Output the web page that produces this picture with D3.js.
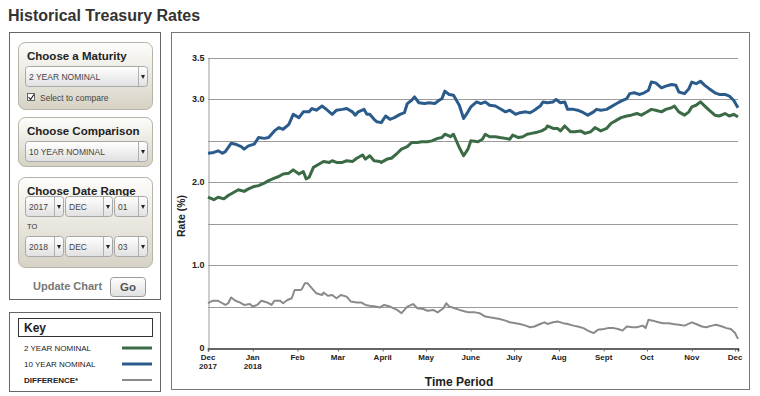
<!DOCTYPE html>
<html>
<head>
<meta charset="utf-8">
<script src="https://cdn.jsdelivr.net/npm/d3@7"></script>
<style>
  body { margin: 0; background: #fff; }
  svg { font-family: "Liberation Sans", Arial, sans-serif; display: block; }
</style>
</head>
<body>
<svg id="chart" width="760" height="396"></svg>
<script>

// tick labels
var monthTicks = ["2017-12-01","2018-01-01","2018-02-01","2018-03-01","2018-04-01","2018-05-01",
  "2018-06-01","2018-07-01","2018-08-01","2018-09-01","2018-10-01","2018-11-01","2018-12-01"];
var monthLabels = ["Dec","Jan","Feb","Mar","April","May","June","July","Aug","Sept","Oct","Nov","Dec"];
var yearLabels = ["2017","2018"];
var rateTicks = [0, 1.0, 2.0, 3.0, 3.5];
var gridValues = [0.5, 1.0, 1.5, 2.0, 2.5, 3.0, 3.5];
var seriesNames = ["2 YEAR NOMINAL", "10 YEAR NOMINAL", "DIFFERENCE*"];

// 10 year nominal (%)
var tenYear = [
  ["2017-12-01",2.35],["2017-12-05",2.36],["2017-12-08",2.38],["2017-12-11",2.35],["2017-12-13",2.37],
  ["2017-12-17",2.47],["2017-12-20",2.46],["2017-12-24",2.43],["2017-12-26",2.40],["2017-12-29",2.44],
  ["2018-01-02",2.46],["2018-01-05",2.54],["2018-01-09",2.53],["2018-01-12",2.54],["2018-01-16",2.62],
  ["2018-01-19",2.66],["2018-01-22",2.64],["2018-01-26",2.70],["2018-01-29",2.82],["2018-02-02",2.78],
  ["2018-02-05",2.85],["2018-02-09",2.85],["2018-02-11",2.89],["2018-02-14",2.87],["2018-02-18",2.92],
  ["2018-02-21",2.88],["2018-02-25",2.82],["2018-02-28",2.87],["2018-03-04",2.88],["2018-03-07",2.89],
  ["2018-03-11",2.85],["2018-03-13",2.81],["2018-03-15",2.85],["2018-03-19",2.88],["2018-03-21",2.82],
  ["2018-03-23",2.82],["2018-03-26",2.76],["2018-03-28",2.73],["2018-03-31",2.72],["2018-04-03",2.80],
  ["2018-04-06",2.76],["2018-04-09",2.78],["2018-04-13",2.82],["2018-04-16",2.84],["2018-04-18",2.95],
  ["2018-04-21",2.99],["2018-04-23",3.03],["2018-04-26",2.96],["2018-04-30",2.95],["2018-05-03",2.96],
  ["2018-05-07",2.95],["2018-05-10",2.99],["2018-05-12",3.01],["2018-05-14",3.10],["2018-05-17",3.06],
  ["2018-05-20",3.05],["2018-05-24",2.93],["2018-05-27",2.77],["2018-05-30",2.85],["2018-06-01",2.91],
  ["2018-06-05",2.97],["2018-06-08",2.95],["2018-06-11",2.97],["2018-06-14",2.93],["2018-06-18",2.92],
  ["2018-06-21",2.89],["2018-06-25",2.85],["2018-06-28",2.87],["2018-07-02",2.82],["2018-07-05",2.84],
  ["2018-07-09",2.85],["2018-07-12",2.84],["2018-07-15",2.87],["2018-07-19",2.92],["2018-07-21",2.97],
  ["2018-07-24",2.96],["2018-07-28",2.97],["2018-07-30",3.00],["2018-08-02",2.96],["2018-08-05",2.97],
  ["2018-08-07",2.88],["2018-08-11",2.88],["2018-08-14",2.87],["2018-08-18",2.84],["2018-08-21",2.81],
  ["2018-08-25",2.85],["2018-08-27",2.88],["2018-08-30",2.87],["2018-09-03",2.88],["2018-09-06",2.91],
  ["2018-09-10",2.95],["2018-09-13",2.98],["2018-09-17",3.01],["2018-09-19",3.07],["2018-09-22",3.08],
  ["2018-09-26",3.06],["2018-09-29",3.08],["2018-10-02",3.11],["2018-10-04",3.21],["2018-10-07",3.20],
  ["2018-10-11",3.14],["2018-10-14",3.16],["2018-10-18",3.18],["2018-10-21",3.17],["2018-10-23",3.09],
  ["2018-10-27",3.07],["2018-10-30",3.13],["2018-11-01",3.21],["2018-11-04",3.19],["2018-11-07",3.22],
  ["2018-11-10",3.17],["2018-11-13",3.13],["2018-11-17",3.08],["2018-11-20",3.06],["2018-11-24",3.06],
  ["2018-11-27",3.04],["2018-11-30",2.99],["2018-12-02",2.93],["2018-12-03",2.90]
];

// 2 year nominal (%)
var twoYear = [
  ["2017-12-01",1.82],["2017-12-05",1.79],["2017-12-08",1.82],["2017-12-12",1.80],["2017-12-15",1.84],
  ["2017-12-19",1.88],["2017-12-22",1.91],["2017-12-26",1.89],["2017-12-29",1.92],["2018-01-02",1.95],
  ["2018-01-05",1.96],["2018-01-09",1.99],["2018-01-12",2.02],["2018-01-16",2.05],["2018-01-19",2.07],
  ["2018-01-22",2.10],["2018-01-26",2.11],["2018-01-29",2.15],["2018-02-02",2.10],["2018-02-05",2.13],
  ["2018-02-07",2.04],["2018-02-09",2.06],["2018-02-12",2.18],["2018-02-16",2.22],["2018-02-19",2.25],
  ["2018-02-23",2.24],["2018-02-25",2.26],["2018-02-28",2.24],["2018-03-04",2.24],["2018-03-07",2.26],
  ["2018-03-11",2.25],["2018-03-14",2.29],["2018-03-18",2.33],["2018-03-20",2.28],["2018-03-23",2.32],
  ["2018-03-26",2.26],["2018-03-30",2.25],["2018-03-31",2.24],["2018-04-04",2.28],["2018-04-07",2.29],
  ["2018-04-11",2.35],["2018-04-14",2.40],["2018-04-18",2.43],["2018-04-21",2.48],["2018-04-25",2.48],
  ["2018-04-28",2.49],["2018-05-02",2.49],["2018-05-05",2.50],["2018-05-09",2.53],["2018-05-12",2.54],
  ["2018-05-14",2.58],["2018-05-18",2.55],["2018-05-20",2.58],["2018-05-24",2.42],["2018-05-27",2.32],
  ["2018-05-30",2.40],["2018-06-01",2.50],["2018-06-06",2.49],["2018-06-09",2.52],["2018-06-11",2.58],
  ["2018-06-14",2.55],["2018-06-18",2.55],["2018-06-21",2.54],["2018-06-25",2.53],["2018-06-28",2.52],
  ["2018-06-30",2.57],["2018-07-04",2.54],["2018-07-07",2.55],["2018-07-10",2.58],["2018-07-13",2.59],
  ["2018-07-16",2.60],["2018-07-20",2.62],["2018-07-23",2.65],["2018-07-24",2.68],["2018-07-28",2.65],
  ["2018-07-31",2.65],["2018-08-02",2.62],["2018-08-05",2.68],["2018-08-09",2.61],["2018-08-12",2.61],
  ["2018-08-16",2.62],["2018-08-19",2.59],["2018-08-23",2.61],["2018-08-26",2.66],["2018-08-28",2.64],
  ["2018-08-30",2.62],["2018-09-03",2.65],["2018-09-06",2.71],["2018-09-10",2.75],["2018-09-13",2.78],
  ["2018-09-17",2.80],["2018-09-20",2.81],["2018-09-24",2.83],["2018-09-27",2.81],["2018-09-30",2.84],
  ["2018-10-04",2.88],["2018-10-07",2.87],["2018-10-11",2.85],["2018-10-14",2.88],["2018-10-18",2.90],
  ["2018-10-20",2.92],["2018-10-23",2.85],["2018-10-27",2.81],["2018-10-30",2.85],["2018-11-01",2.91],
  ["2018-11-04",2.93],["2018-11-07",2.97],["2018-11-10",2.92],["2018-11-13",2.87],["2018-11-17",2.81],
  ["2018-11-20",2.80],["2018-11-24",2.83],["2018-11-27",2.80],["2018-11-30",2.82],["2018-12-02",2.80],
  ["2018-12-03",2.79]
];

// difference (%)
var difference = [
  ["2017-12-01",0.54],["2017-12-04",0.57],["2017-12-08",0.57],["2017-12-11",0.54],["2017-12-13",0.52],
  ["2017-12-15",0.54],["2017-12-17",0.61],["2017-12-20",0.57],["2017-12-23",0.55],["2017-12-26",0.52],
  ["2017-12-30",0.53],["2018-01-01",0.50],["2018-01-04",0.52],["2018-01-07",0.57],["2018-01-11",0.55],
  ["2018-01-14",0.52],["2018-01-16",0.57],["2018-01-20",0.57],["2018-01-22",0.54],["2018-01-25",0.58],
  ["2018-01-28",0.60],["2018-01-30",0.70],["2018-02-03",0.70],["2018-02-04",0.71],["2018-02-06",0.78],
  ["2018-02-08",0.78],["2018-02-11",0.72],["2018-02-14",0.66],["2018-02-18",0.64],["2018-02-19",0.67],
  ["2018-02-22",0.63],["2018-02-25",0.64],["2018-02-28",0.60],["2018-03-03",0.64],["2018-03-07",0.62],
  ["2018-03-10",0.56],["2018-03-14",0.55],["2018-03-17",0.55],["2018-03-20",0.52],["2018-03-23",0.51],
  ["2018-03-27",0.50],["2018-03-30",0.49],["2018-04-02",0.52],["2018-04-06",0.50],["2018-04-11",0.46],
  ["2018-04-14",0.42],["2018-04-18",0.50],["2018-04-22",0.53],["2018-04-25",0.48],["2018-04-29",0.47],
  ["2018-05-02",0.45],["2018-05-06",0.46],["2018-05-09",0.43],["2018-05-13",0.48],["2018-05-15",0.54],
  ["2018-05-17",0.50],["2018-05-21",0.48],["2018-05-24",0.46],["2018-05-28",0.44],["2018-05-31",0.43],
  ["2018-06-04",0.43],["2018-06-07",0.42],["2018-06-11",0.38],["2018-06-14",0.37],["2018-06-18",0.36],
  ["2018-06-21",0.35],["2018-06-25",0.33],["2018-06-28",0.31],["2018-07-02",0.30],["2018-07-05",0.29],
  ["2018-07-09",0.27],["2018-07-12",0.25],["2018-07-15",0.26],["2018-07-19",0.29],["2018-07-22",0.31],
  ["2018-07-24",0.29],["2018-07-28",0.31],["2018-07-31",0.32],["2018-08-04",0.30],["2018-08-07",0.29],
  ["2018-08-11",0.27],["2018-08-14",0.26],["2018-08-18",0.24],["2018-08-21",0.21],["2018-08-25",0.18],
  ["2018-08-28",0.22],["2018-09-01",0.23],["2018-09-04",0.24],["2018-09-08",0.24],["2018-09-11",0.23],
  ["2018-09-14",0.21],["2018-09-17",0.26],["2018-09-21",0.25],["2018-09-24",0.25],["2018-09-28",0.27],
  ["2018-09-30",0.24],["2018-10-02",0.34],["2018-10-05",0.33],["2018-10-09",0.31],["2018-10-12",0.30],
  ["2018-10-16",0.30],["2018-10-19",0.29],["2018-10-23",0.28],["2018-10-27",0.27],["2018-11-01",0.31],
  ["2018-11-04",0.29],["2018-11-08",0.26],["2018-11-11",0.25],["2018-11-15",0.27],["2018-11-18",0.28],
  ["2018-11-22",0.26],["2018-11-25",0.24],["2018-11-28",0.23],["2018-12-01",0.18],["2018-12-03",0.11]
];

var colors = {two: "#3b6b45", ten: "#2b5b8b", diff: "#8a8a8a"};
var parse = d3.timeParse("%Y-%m-%d");

var svg = d3.select("#chart");
var defs = svg.append("defs");

function vGrad(id, c1, c2) {
  var g = defs.append("linearGradient").attr("id", id)
    .attr("x1", 0).attr("y1", 0).attr("x2", 0).attr("y2", 1);
  g.append("stop").attr("offset", "0%").attr("stop-color", c1);
  g.append("stop").attr("offset", "100%").attr("stop-color", c2);
}
vGrad("boxGrad", "#fdfdfb", "#d6d2c5");
vGrad("selGrad", "#ffffff", "#e0e0e0");

// title
svg.append("text")
  .attr("x", 8).attr("y", 21)
  .style("font-size", "16px").style("font-weight", "bold").attr("fill", "#333")
  .text("Historical Treasury Rates");

// ---- left control panel ----
svg.append("rect")
  .attr("x", 9.5).attr("y", 32.5).attr("width", 151).attr("height", 267)
  .attr("fill", "#fff").attr("stroke", "#666");

function panelBox(y, h, title) {
  svg.append("rect")
    .attr("x", 18.5).attr("y", y + 0.5).attr("width", 134).attr("height", h)
    .attr("rx", 7).attr("fill", "url(#boxGrad)").attr("stroke", "#b5b2a8");
  svg.append("text")
    .attr("x", 27).attr("y", y + 18)
    .style("font-size", "11.5px").style("font-weight", "bold").attr("fill", "#222")
    .text(title);
}

function selectBox(x, y, w, label) {
  var h = 20;
  svg.append("rect")
    .attr("x", x + 0.5).attr("y", y + 0.5).attr("width", w).attr("height", h)
    .attr("rx", 3).attr("fill", "url(#selGrad)").attr("stroke", "#a8a8a8");
  svg.append("line")
    .attr("x1", x + w - 8.5).attr("x2", x + w - 8.5)
    .attr("y1", y + 1).attr("y2", y + h)
    .attr("stroke", "#b0b0b0");
  svg.append("path")
    .attr("d", "M" + (x + w - 6) + "," + (y + 9) + "l4,0l-2,4z")
    .attr("fill", "#222");
  svg.append("text")
    .attr("x", x + 4).attr("y", y + 13.5)
    .style("font-size", "8.5px").attr("fill", "#444")
    .text(label);
}

panelBox(42, 67, "Choose a Maturity");
selectBox(25, 66, 122, "2 YEAR NOMINAL");
svg.append("rect").attr("x", 27.5).attr("y", 93.5).attr("width", 7).attr("height", 7)
  .attr("fill", "#fff").attr("stroke", "#666");
svg.append("path").attr("d", "M28.5,97 l2,2.5 l3.5,-5").attr("fill", "none")
  .attr("stroke", "#222").attr("stroke-width", 1.2);
svg.append("text").attr("x", 40).attr("y", 101)
  .style("font-size", "8.5px").attr("fill", "#444").text("Select to compare");

panelBox(117, 49, "Choose Comparison");
selectBox(25, 141, 122, "10 YEAR NOMINAL");

panelBox(177, 90, "Choose Date Range");
selectBox(25, 196, 38, "2017");
selectBox(65, 196, 47, "DEC");
selectBox(114, 196, 33, "01");
svg.append("text").attr("x", 27).attr("y", 229)
  .style("font-size", "7.5px").attr("fill", "#333").text("TO");
selectBox(25, 236, 38, "2018");
selectBox(65, 236, 47, "DEC");
selectBox(114, 236, 33, "03");

svg.append("text").attr("x", 33).attr("y", 290)
  .style("font-size", "11px").style("font-weight", "bold").attr("fill", "#777")
  .text("Update Chart");
svg.append("rect").attr("x", 110.5).attr("y", 277.5).attr("width", 35).attr("height", 19)
  .attr("rx", 3).attr("fill", "url(#selGrad)").attr("stroke", "#999");
svg.append("text").attr("x", 128).attr("y", 291).attr("text-anchor", "middle")
  .style("font-size", "11.5px").style("font-weight", "bold").attr("fill", "#555").text("Go");

// ---- key ----
svg.append("rect").attr("x", 9.5).attr("y", 312.5).attr("width", 151).attr("height", 79)
  .attr("fill", "#fff").attr("stroke", "#666");
svg.append("rect").attr("x", 18.5).attr("y", 318.5).attr("width", 134).attr("height", 18)
  .attr("fill", "#fff").attr("stroke", "#333");
svg.append("text").attr("x", 24).attr("y", 332)
  .style("font-size", "12px").style("font-weight", "bold").attr("fill", "#222").text("Key");

var keyColors = [colors.two, colors.ten, colors.diff];
var keyRows = svg.append("g").selectAll("g").data(seriesNames).enter().append("g")
  .attr("transform", function(d, i) { return "translate(0," + (351 + i * 16) + ")"; });
keyRows.append("text").attr("x", 24).attr("y", 0)
  .style("font-size", "8px")
  .style("font-weight", function(d, i) { return i === 2 ? "bold" : "normal"; })
  .attr("fill", "#222")
  .text(function(d) { return d; });
keyRows.append("line").attr("x1", 122).attr("x2", 152).attr("y1", -3).attr("y2", -3)
  .attr("stroke", function(d, i) { return keyColors[i]; })
  .attr("stroke-width", function(d, i) { return i === 2 ? 2 : 3; });

// ---- chart panel ----
svg.append("rect").attr("x", 171.5).attr("y", 32.5).attr("width", 578).attr("height", 357)
  .attr("fill", "#fff").attr("stroke", "#777");

var x = d3.scaleTime()
  .domain([parse("2017-12-01"), parse("2018-12-03")])
  .range([208, 738]);
var y = d3.scaleLinear().domain([0, 3.5]).range([348, 58]);

// gridlines
svg.append("g").selectAll("line").data(gridValues).enter().append("line")
  .attr("x1", 208).attr("x2", 738)
  .attr("y1", function(d) { return Math.round(y(d)) + 0.5; })
  .attr("y2", function(d) { return Math.round(y(d)) + 0.5; })
  .attr("stroke", "#9a9a9a");

// y axis
var yAxis = d3.axisLeft(y).tickValues(rateTicks).tickSize(0).tickPadding(4)
  .tickFormat(function(d) { return d === 0 ? "0" : d3.format(".1f")(d); });
var yg = svg.append("g").attr("transform", "translate(208.5,0)").call(yAxis);
yg.select(".domain").attr("stroke", "#9a9a9a");
yg.selectAll("text").style("font-size", "9px").style("font-weight", "bold")
  .style("font-family", "'Liberation Sans', Arial, sans-serif").attr("fill", "#222")
  .attr("dy", "0.25em");

// x axis
var xAxis = d3.axisBottom(x).tickValues(monthTicks.map(parse)).tickSize(3).tickFormat("");
var xg = svg.append("g").attr("transform", "translate(0,348.5)").call(xAxis);
xg.select(".domain").attr("stroke", "#333").attr("stroke-width", 1.5);
xg.selectAll(".tick line").attr("stroke", "#666");

svg.append("g").selectAll("text").data(monthTicks).enter().append("text")
  .attr("x", function(d) { return x(parse(d)); })
  .attr("y", 360)
  .attr("text-anchor", "middle")
  .style("font-size", "8px").style("font-weight", "bold").attr("fill", "#222")
  .text(function(d, i) { return monthLabels[i]; });

svg.append("g").selectAll("text").data(yearLabels).enter().append("text")
  .attr("x", function(d, i) { return x(parse(monthTicks[i])); })
  .attr("y", 369)
  .attr("text-anchor", "middle")
  .style("font-size", "8px").style("font-weight", "bold").attr("fill", "#222")
  .text(function(d) { return d; });

// axis titles
svg.append("text")
  .attr("transform", "translate(185,216) rotate(-90)")
  .attr("text-anchor", "middle")
  .style("font-size", "10.5px").style("font-weight", "bold").attr("fill", "#222")
  .text("Rate (%)");
svg.append("text")
  .attr("x", 459).attr("y", 386).attr("text-anchor", "middle")
  .style("font-size", "12px").style("font-weight", "bold").attr("fill", "#222")
  .text("Time Period");

// lines
var line = d3.line()
  .x(function(d) { return x(parse(d[0])); })
  .y(function(d) { return y(d[1]); });

svg.append("path").datum(difference).attr("d", line)
  .attr("fill", "none").attr("stroke", colors.diff).attr("stroke-width", 2)
  .attr("stroke-linejoin", "round");
svg.append("path").datum(twoYear).attr("d", line)
  .attr("fill", "none").attr("stroke", colors.two).attr("stroke-width", 3)
  .attr("stroke-linejoin", "round");
svg.append("path").datum(tenYear).attr("d", line)
  .attr("fill", "none").attr("stroke", colors.ten).attr("stroke-width", 3)
  .attr("stroke-linejoin", "round");

</script>
</body>
</html>
